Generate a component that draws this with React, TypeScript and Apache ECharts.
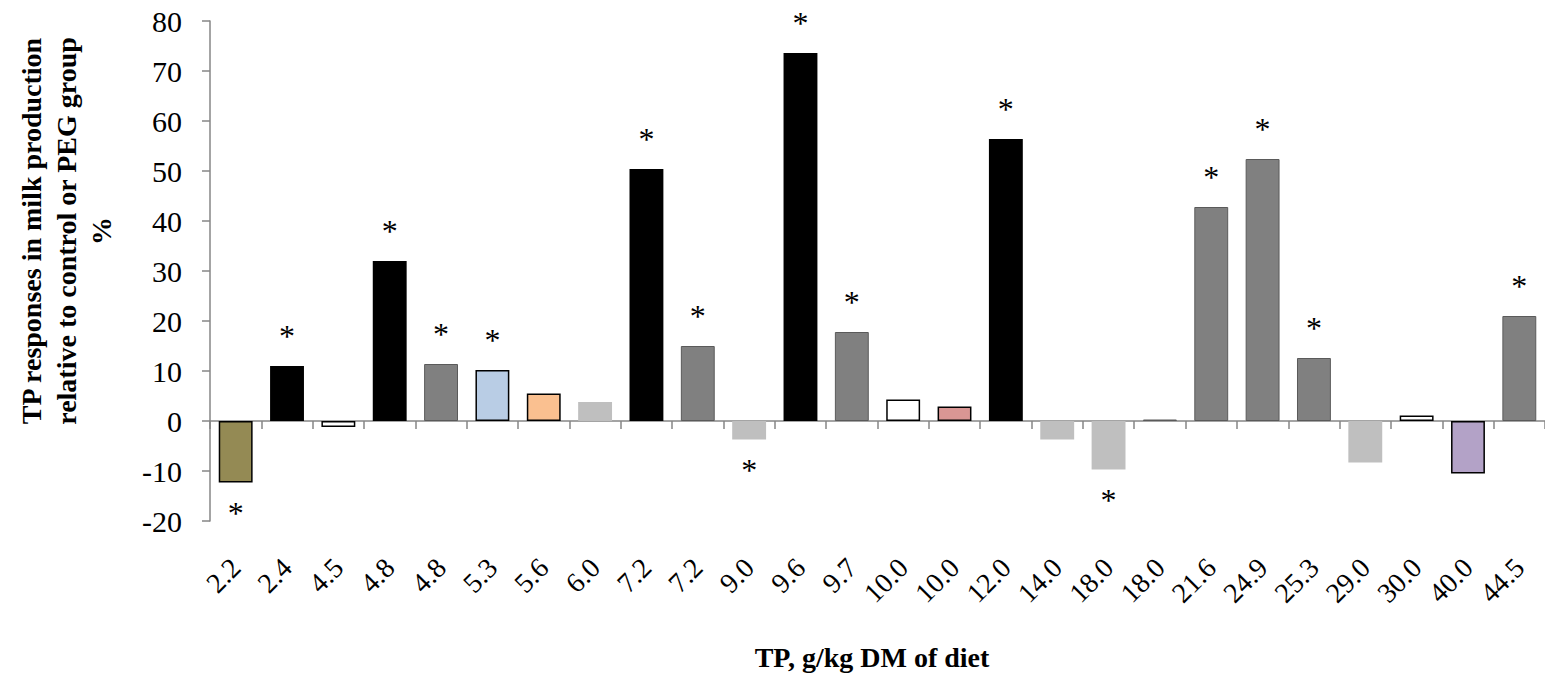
import React, { useEffect, useRef } from "react";
import * as echarts from "echarts";

const categories = ["2.2","2.4","4.5","4.8","4.8","5.3","5.6","6.0","7.2","7.2","9.0","9.6","9.7","10.0","10.0","12.0","14.0","18.0","18.0","21.6","24.9","25.3","29.0","30.0","40.0","44.5"];
const values = [-12.3, 11, -1.2, 32, 11.4, 10.2, 5.5, 3.8, 50.4, 15, -3.7, 73.6, 17.8, 4.3, 2.9, 56.4, -3.7, -9.7, 0.3, 42.8, 52.4, 12.6, -8.3, 1.1, -10.5, 21];
// fill kind per bar
const kinds = ["olive","black","white","black","gray","blue","orange","lgray","black","gray","lgray","black","gray","white","pink","black","lgray","lgray","gray","gray","gray","gray","lgray","white","purple","gray"];
// significance marker: 1 = above, -1 = below, 0 = none
const stars = [-1,1,0,1,1,1,0,0,1,1,-1,1,1,0,0,1,0,-1,0,1,1,1,0,0,0,1];
const yTicks = { min: -20, max: 80, interval: 10 };

const styles: Record<string, any> = {
  olive: { color: "#948A54", borderColor: "#000", borderWidth: 1.5 },
  black: { color: "#000000" },
  white: { color: "#FFFFFF", borderColor: "#000", borderWidth: 1.5 },
  gray: { color: "#808080", borderColor: "#5a5a5a", borderWidth: 1 },
  blue: { color: "#B9CDE5", borderColor: "#000", borderWidth: 1.5 },
  orange: { color: "#FAC090", borderColor: "#000", borderWidth: 1.5 },
  lgray: { color: "#BFBFBF" },
  pink: { color: "#D99694", borderColor: "#000", borderWidth: 1.5 },
  purple: { color: "#B3A2C7", borderColor: "#000", borderWidth: 1.5 },
};

const FONT = "'Liberation Serif', 'Times New Roman', serif";

export default function App() {
  const ref = useRef<HTMLDivElement>(null);
  useEffect(() => {
    document.body.style.margin = "0";
    const chart = echarts.init(ref.current!, null, { renderer: "svg" });
    const data = values.map((v, i) => ({
      value: v,
      itemStyle: styles[kinds[i]],
      label: stars[i]
        ? {
            show: true,
            formatter: "*",
            position: stars[i] > 0 ? "top" : "bottom",
            distance: stars[i] > 0 ? 14 : 14,
            fontSize: 32,
            fontFamily: FONT,
            color: "#000",
          }
        : { show: false },
    }));
    chart.setOption({
      animation: false,
      grid: { left: 210, right: 0, top: 21, bottom: 154 },
      xAxis: [
        {
          type: "category",
          data: categories,
          position: "bottom",
          axisLine: { onZero: true, lineStyle: { color: "#868686", width: 1.5 } },
          axisTick: { show: true, length: 8, lineStyle: { color: "#868686", width: 1.5 } },
          axisLabel: { show: false },
        },
        {
          type: "category",
          data: categories,
          position: "bottom",
          axisLine: { show: false, onZero: false },
          axisTick: { show: false },
          axisLabel: {
            show: true,
            interval: 0,
            rotate: 45,
            margin: 42,
            fontSize: 28,
            fontFamily: FONT,
            color: "#000",
          },
        },
      ],
      yAxis: {
        type: "value",
        min: yTicks.min,
        max: yTicks.max,
        interval: yTicks.interval,
        axisLine: { show: true, lineStyle: { color: "#868686", width: 1.5 } },
        axisTick: { show: true, length: 8, lineStyle: { color: "#868686", width: 1.5 } },
        splitLine: { show: false },
        axisLabel: { fontSize: 30, fontFamily: FONT, color: "#000", margin: 28 },
      },
      graphic: [
        {
          type: "text",
          x: 66,
          y: 231,
          rotation: Math.PI / 2,
          style: {
            text: "TP responses in milk production\nrelative to control or PEG group\n%",
            font: `bold 28px ${FONT}`,
            lineHeight: 35,
            align: "center",
            verticalAlign: "middle",
            fill: "#000",
          },
        },
        {
          type: "text",
          x: 872,
          y: 657,
          style: {
            text: "TP, g/kg DM of diet",
            font: `bold 28px ${FONT}`,
            align: "center",
            verticalAlign: "middle",
            fill: "#000",
          },
        },
      ],
      series: [
        {
          type: "bar",
          xAxisIndex: 0,
          data,
          barCategoryGap: "34%",
        },
      ],
    });
    return () => chart.dispose();
  }, []);
  return <div ref={ref} style={{ width: 1545, height: 675 }} />;
}
